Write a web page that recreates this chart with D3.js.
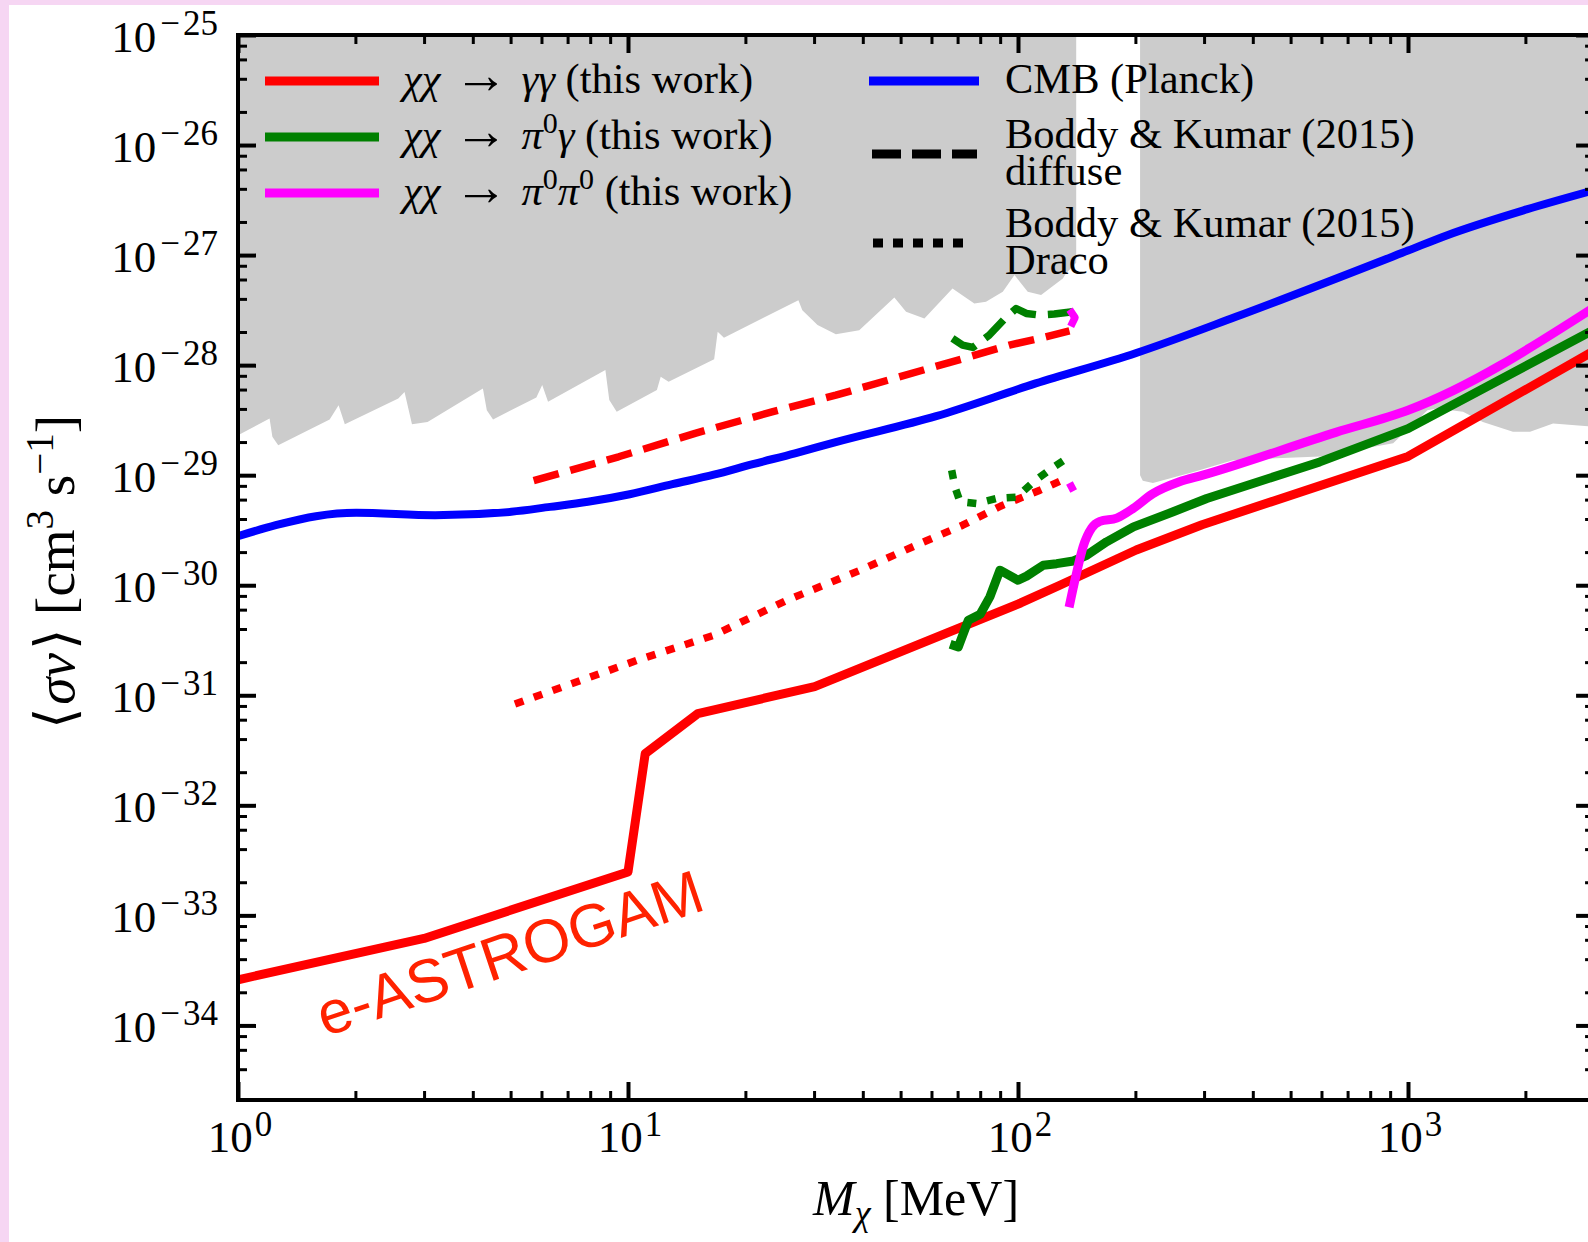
<!DOCTYPE html>
<html>
<head>
<meta charset="utf-8">
<script src="https://cdn.jsdelivr.net/npm/d3@7"></script>
<style>
  body { margin: 0; background: #fff; }
  svg { display: block; }
</style>
</head>
<body>
<svg id="chart" width="1588" height="1242"></svg>
<script>
// <sigma v> limits vs dark matter mass, log-log

// [M (MeV), <sigma v> (cm^3 s^-1)]
const cmbPlanck = [[1, 2.79e-30], [1.25, 3.51e-30], [1.585, 4.24e-30], [2.01, 4.55e-30], [3.2, 4.33e-30],
  [5.02, 4.65e-30], [6.31, 5.15e-30], [7.89, 5.73e-30], [10.1, 6.71e-30], [13.0, 8.28e-30], [16.6, 1.01e-29],
  [20.9, 1.26e-29], [26.8, 1.58e-29], [34.1, 2.0e-29], [61.7, 3.44e-29], [111, 6.82e-29], [201, 1.29e-28],
  [362, 2.75e-28], [1000, 1.10e-27], [1256, 1.51e-27], [2014, 2.6e-27], [3000, 3.89e-27]];

const gammaGamma = [[1, 2.6e-34], [3, 6.17e-34], [10, 2.48e-33], [11.07, 2.95e-32], [15.1, 6.82e-32],
  [30.1, 1.2e-31], [101.6, 6.9e-31], [128, 1.0e-30], [201, 2.09e-30], [296.5, 3.55e-30], [1000, 1.48e-29],
  [3000, 1.35e-28]];

const pi0Gamma = [[67.0, 2.91e-31], [70.3, 2.75e-31], [74.6, 4.81e-31], [80.0, 5.45e-31], [84.7, 7.83e-31],
  [89.9, 1.37e-30], [100, 1.11e-30], [105.2, 1.21e-30], [116.1, 1.52e-30], [125.6, 1.57e-30], [138.7, 1.66e-30],
  [150, 1.87e-30], [168.7, 2.48e-30], [197.7, 3.39e-30], [250, 4.65e-30], [304.8, 6.14e-30], [594, 1.32e-29],
  [1000, 2.65e-29], [3000, 2.10e-28]];

const pi0Pi0 = [[135.2, 6.31e-31], [141.3, 1.29e-30], [146.9, 2.24e-30], [154.5, 3.31e-30], [162.2, 3.80e-30],
  [179.1, 4.07e-30], [197.7, 5.01e-30], [221.3, 6.76e-30], [259.4, 8.71e-30], [297.9, 1.0e-29], [653, 2.45e-29],
  [1000, 3.89e-29], [3000, 3.35e-28]];

// Boddy & Kumar (2015), diffuse
const gammaGammaDiffuse = [[5.73, 8.91e-30], [9.46, 1.47e-29], [14.86, 2.40e-29], [23.4, 3.76e-29],
  [34.1, 5.33e-29], [48.2, 7.59e-29], [60.4, 9.55e-29], [75.0, 1.19e-28], [95.1, 1.52e-28], [113.5, 1.75e-28],
  [135.5, 2.05e-28]];
const pi0GammaDiffuse = [[67.9, 1.75e-28], [72.1, 1.52e-28], [76.6, 1.45e-28], [84.3, 1.87e-28], [93.1, 2.71e-28],
  [98.9, 3.27e-28], [105, 2.95e-28], [113.5, 2.85e-28], [123.9, 2.91e-28], [138, 3.05e-28]];
const pi0Pi0Diffuse = [[135.6, 3.2e-28], [140, 2.7e-28], [136.5, 2.25e-28]];

// Boddy & Kumar (2015), Draco
const gammaGammaDraco = [[5.13, 8.32e-32], [10.6, 2.09e-31], [16.6, 3.51e-31], [25.4, 7.24e-31], [39.4, 1.37e-30],
  [56.2, 2.40e-30], [72.1, 3.51e-30], [90.4, 5.25e-30], [113.8, 7.31e-30], [132.7, 9.33e-30]];
const pi0GammaDraco = [[67.6, 1.11e-29], [68.9, 7.83e-30], [71.0, 5.75e-30], [78.3, 5.53e-30], [88.1, 6.14e-30],
  [99.3, 6.31e-30], [109.6, 8.71e-30], [121.9, 1.15e-29], [137.4, 1.52e-29]];
const pi0Pi0Draco = [[135.5, 8.5e-30], [139.5, 7.0e-30], [137, 6.3e-30]];

// excluded regions (lower edge; filled up to the top of the frame)
const excludedLow = [[1.0, 2.31e-29], [1.205, 3.27e-29], [1.225, 2.23e-29], [1.268, 1.87e-29], [1.718, 3.21e-29],
  [1.811, 4.33e-29], [1.879, 2.91e-29], [2.576, 4.98e-29], [2.673, 5.71e-29], [2.793, 2.91e-29], [3.062, 3.05e-29],
  [4.246, 6.14e-29], [4.345, 3.89e-29], [4.508, 3.21e-29], [5.821, 5.08e-29], [6.026, 6.61e-29], [6.237, 4.65e-29],
  [8.75, 9.02e-29], [8.954, 4.81e-29], [9.354, 3.77e-29], [11.86, 5.93e-29], [12.13, 7.83e-29], [12.71, 7.05e-29],
  [16.63, 1.13e-28], [16.98, 2.01e-28], [17.62, 1.77e-28], [27.35, 3.89e-28], [27.99, 3.16e-28], [30.62, 2.31e-28],
  [34.12, 1.91e-28], [39.17, 2.08e-28], [48.19, 4.12e-28], [51.64, 3.05e-28], [57.54, 2.65e-28], [67.92, 4.98e-28],
  [77.27, 3.64e-28], [82.79, 3.77e-28], [91.41, 4.65e-28], [97.95, 6.58e-28], [105.9, 4.65e-28], [114.6, 4.33e-28],
  [130.3, 6.14e-28], [132.7, 6.81e-28], [141, 8.5e-28]];
const excludedHigh = [[205.6, 1.0e-29], [208.9, 8.91e-30], [221.8, 8.51e-30], [281.8, 1.07e-29], [355.6, 1.37e-29],
  [594.3, 1.48e-29], [916.2, 1.95e-29], [1122, 3.89e-29], [1186, 4.04e-29], [1384, 3.77e-29], [1556, 3.05e-29],
  [1858, 2.48e-29], [2056, 2.48e-29], [2355, 2.95e-29], [3000, 2.75e-29]];

const xExponents = [0, 1, 2, 3];
const yExponents = [-25, -26, -27, -28, -29, -30, -31, -32, -33, -34];
const xMinorSubs = [2, 3, 4, 5, 6, 7, 8, 9];
const yMinorSubs = [2, 4, 6, 8];

const SERIF = "'Liberation Serif', 'DejaVu Serif', serif";

const LEFT = 238, TOP = 35, BOTTOM = 1100, DECADE = 390;
const RIGHT = LEFT + DECADE * Math.log10(3000);

const x = d3.scaleLog().domain([1, 3000]).range([LEFT, RIGHT]);
const y = d3.scaleLog().domain([2.1e-35, 1e-25]).range([BOTTOM, TOP]);

const svg = d3.select("#chart");

// pink page edge
svg.append("rect").attr("x", 0).attr("y", 0).attr("width", 1588).attr("height", 5).attr("fill", "#f6d6f3");
svg.append("rect").attr("x", 0).attr("y", 0).attr("width", 9).attr("height", 1242).attr("fill", "#f6d6f3");

svg.append("defs").append("clipPath").attr("id", "plotclip")
  .append("rect").attr("x", LEFT).attr("y", TOP).attr("width", RIGHT - LEFT).attr("height", BOTTOM - TOP);

const plot = svg.append("g").attr("clip-path", "url(#plotclip)");

// grey excluded regions
const band = d3.area().x(d => x(d[0])).y0(y(1e-25)).y1(d => y(d[1]));
[excludedLow, excludedHigh].forEach(region => {
  plot.append("path").attr("d", band(region)).attr("fill", "#cccccc");
});

function drawLine(data, color, width, dash, curve) {
  const line = d3.line().x(d => x(d[0])).y(d => y(d[1])).curve(curve || d3.curveLinear);
  plot.append("path")
    .attr("d", line(data))
    .attr("fill", "none")
    .attr("stroke", color)
    .attr("stroke-width", width)
    .attr("stroke-dasharray", dash)
    .attr("stroke-linejoin", "round");
}

const DASHED = "26,12", DOTTED = "9,11";
drawLine(gammaGammaDiffuse, "#ff0000", 7.5, DASHED);
drawLine(pi0GammaDiffuse, "#008000", 7.5, DASHED);
drawLine(pi0Pi0Diffuse, "#ff00ff", 7.5, DASHED);
drawLine(gammaGammaDraco, "#ff0000", 7.5, DOTTED);
drawLine(pi0GammaDraco, "#008000", 7.5, DOTTED);
drawLine(pi0Pi0Draco, "#ff00ff", 7.5, DOTTED);
drawLine(cmbPlanck, "#0000ff", 8, null, d3.curveMonotoneX);
drawLine(gammaGamma, "#ff0000", 9, null);
drawLine(pi0Gamma, "#008000", 9, null);
drawLine(pi0Pi0, "#ff00ff", 9, null, d3.curveMonotoneX);

// ticks on all four sides, pointing in
const xMinor = [];
xExponents.forEach(e => xMinorSubs.forEach(k => { const v = k * Math.pow(10, e); if (v < 3000) xMinor.push(v); }));
const yMinor = [];
d3.range(-35, -25).forEach(e => yMinorSubs.forEach(k => { const v = k * Math.pow(10, e); if (v > 2.1e-35 && v < 1e-25) yMinor.push(v); }));
const xMajor = xExponents.map(e => Math.pow(10, e));
const yMajor = yExponents.map(e => Math.pow(10, e));

function ticks(axis, values, size, width, transform) {
  const g = svg.append("g").attr("transform", transform)
    .call(axis.tickValues(values).tickSize(-size).tickSizeOuter(0).tickFormat(""));
  g.select(".domain").remove();
  g.selectAll(".tick line").attr("stroke", "#000").attr("stroke-width", width);
}
ticks(d3.axisBottom(x), xMinor, 9, 3, `translate(0,${BOTTOM})`);
ticks(d3.axisBottom(x), xMajor, 18, 4, `translate(0,${BOTTOM})`);
ticks(d3.axisTop(x), xMinor, 9, 3, `translate(0,${TOP})`);
ticks(d3.axisTop(x), xMajor, 18, 4, `translate(0,${TOP})`);
ticks(d3.axisLeft(y), yMinor, 9, 3, `translate(${LEFT},0)`);
ticks(d3.axisLeft(y), yMajor, 18, 4, `translate(${LEFT},0)`);
ticks(d3.axisRight(y), yMinor, 9, 3, `translate(${RIGHT},0)`);
ticks(d3.axisRight(y), yMajor, 18, 4, `translate(${RIGHT},0)`);

svg.append("rect")
  .attr("x", LEFT).attr("y", TOP).attr("width", RIGHT - LEFT).attr("height", BOTTOM - TOP)
  .attr("fill", "none").attr("stroke", "#000").attr("stroke-width", 4);

// rich text: parts are strings or [string, style, dx, size] with style i / sup / sub / isub
function rich(sel, parts, size, small, shift) {
  let cur = 0;
  parts.forEach(p => {
    const [str, st, dx, fs] = typeof p === "string" ? [p, ""] : p;
    const target = st === "sup" ? -shift : (st === "sub" || st === "isub") ? shift * 0.55 : 0;
    const t = sel.append("tspan").text(str).attr("dy", target - cur)
      .attr("font-size", fs || (st === "" || st === "i" ? size : small));
    if (dx) t.attr("dx", dx);
    if (st === "i" || st === "isub") t.attr("font-style", "italic");
    cur = target;
  });
  return sel;
}

// tick labels
yExponents.forEach(e => {
  const t = svg.append("text").attr("x", 218).attr("y", y(Math.pow(10, e)) + 17)
    .attr("text-anchor", "end").attr("font-family", SERIF).attr("fill", "#000");
  rich(t, ["10", ["\u2212", "sup", 4], [String(Math.abs(e)), "sup", 3]], 45, 35, 17);
});
xExponents.forEach(e => {
  const t = svg.append("text").attr("x", x(Math.pow(10, e)) + 2).attr("y", 1152)
    .attr("text-anchor", "middle").attr("font-family", SERIF).attr("fill", "#000");
  rich(t, ["10", [String(e), "sup", 2]], 45, 35, 16);
});

// axis titles
rich(svg.append("text").attr("x", (LEFT + RIGHT) / 2).attr("y", 1215)
  .attr("text-anchor", "middle").attr("font-family", SERIF),
  [["M", "i"], ["\u03c7", "isub"], " [MeV]"], 50, 36, 18);

rich(svg.append("text").attr("transform", "translate(74,572) rotate(-90)")
  .attr("text-anchor", "middle").attr("font-family", SERIF),
  ["\u27e8", ["\u03c3v", "i", 3], ["\u27e9", "", 3], " [cm", ["3", "sup"], " s", ["\u22121", "sup"], "]"], 55, 39, 21);

// legend
const legendLeft = [
  { color: "#ff0000", y: 81, parts: [["\u03c7\u03c7", "i"], [" \u2192 ", "", 0, 54], ["\u03b3\u03b3", "i"], " (this work)"] },
  { color: "#008000", y: 137, parts: [["\u03c7\u03c7", "i"], [" \u2192 ", "", 0, 54], ["\u03c0", "i"], ["0", "sup"], ["\u03b3", "i"], " (this work)"] },
  { color: "#ff00ff", y: 193, parts: [["\u03c7\u03c7", "i"], [" \u2192 ", "", 0, 54], ["\u03c0", "i"], ["0", "sup"], ["\u03c0", "i"], ["0", "sup"], " (this work)"] }
];
legendLeft.forEach(d => {
  svg.append("line").attr("x1", 265).attr("x2", 379).attr("y1", d.y).attr("y2", d.y)
    .attr("stroke", d.color).attr("stroke-width", 9);
  rich(svg.append("text").attr("x", 403).attr("y", d.y + 12).attr("font-family", SERIF),
    d.parts, 42.5, 30, 16);
});

const legendRight = [
  { color: "#0000ff", dash: null, x1: 869, x2: 979, y: 81, lines: ["CMB (Planck)"] },
  { color: "#000", dash: "29,11", x1: 872, x2: 977, y: 154, lines: ["Boddy & Kumar (2015)", "diffuse"] },
  { color: "#000", dash: "10,10", x1: 873, x2: 963, y: 243, lines: ["Boddy & Kumar (2015)", "Draco"] }
];
legendRight.forEach(d => {
  svg.append("line").attr("x1", d.x1).attr("x2", d.x2).attr("y1", d.y).attr("y2", d.y)
    .attr("stroke", d.color).attr("stroke-width", 9).attr("stroke-dasharray", d.dash);
  const top = d.lines.length === 1 ? d.y + 12 : d.y - 6;
  const t = svg.append("text").attr("y", top).attr("font-family", SERIF).attr("font-size", 42.5);
  d.lines.forEach((s, i) => {
    t.append("tspan").attr("x", 1005).attr("dy", i === 0 ? 0 : 37).text(s);
  });
});

// instrument label
svg.append("text").attr("transform", "translate(325,1037) rotate(-18.5)")
  .attr("font-family", "'Liberation Sans', Arial, sans-serif").attr("font-size", 61)
  .attr("fill", "#ff2200").text("e-ASTROGAM");
</script>
</body>
</html>
